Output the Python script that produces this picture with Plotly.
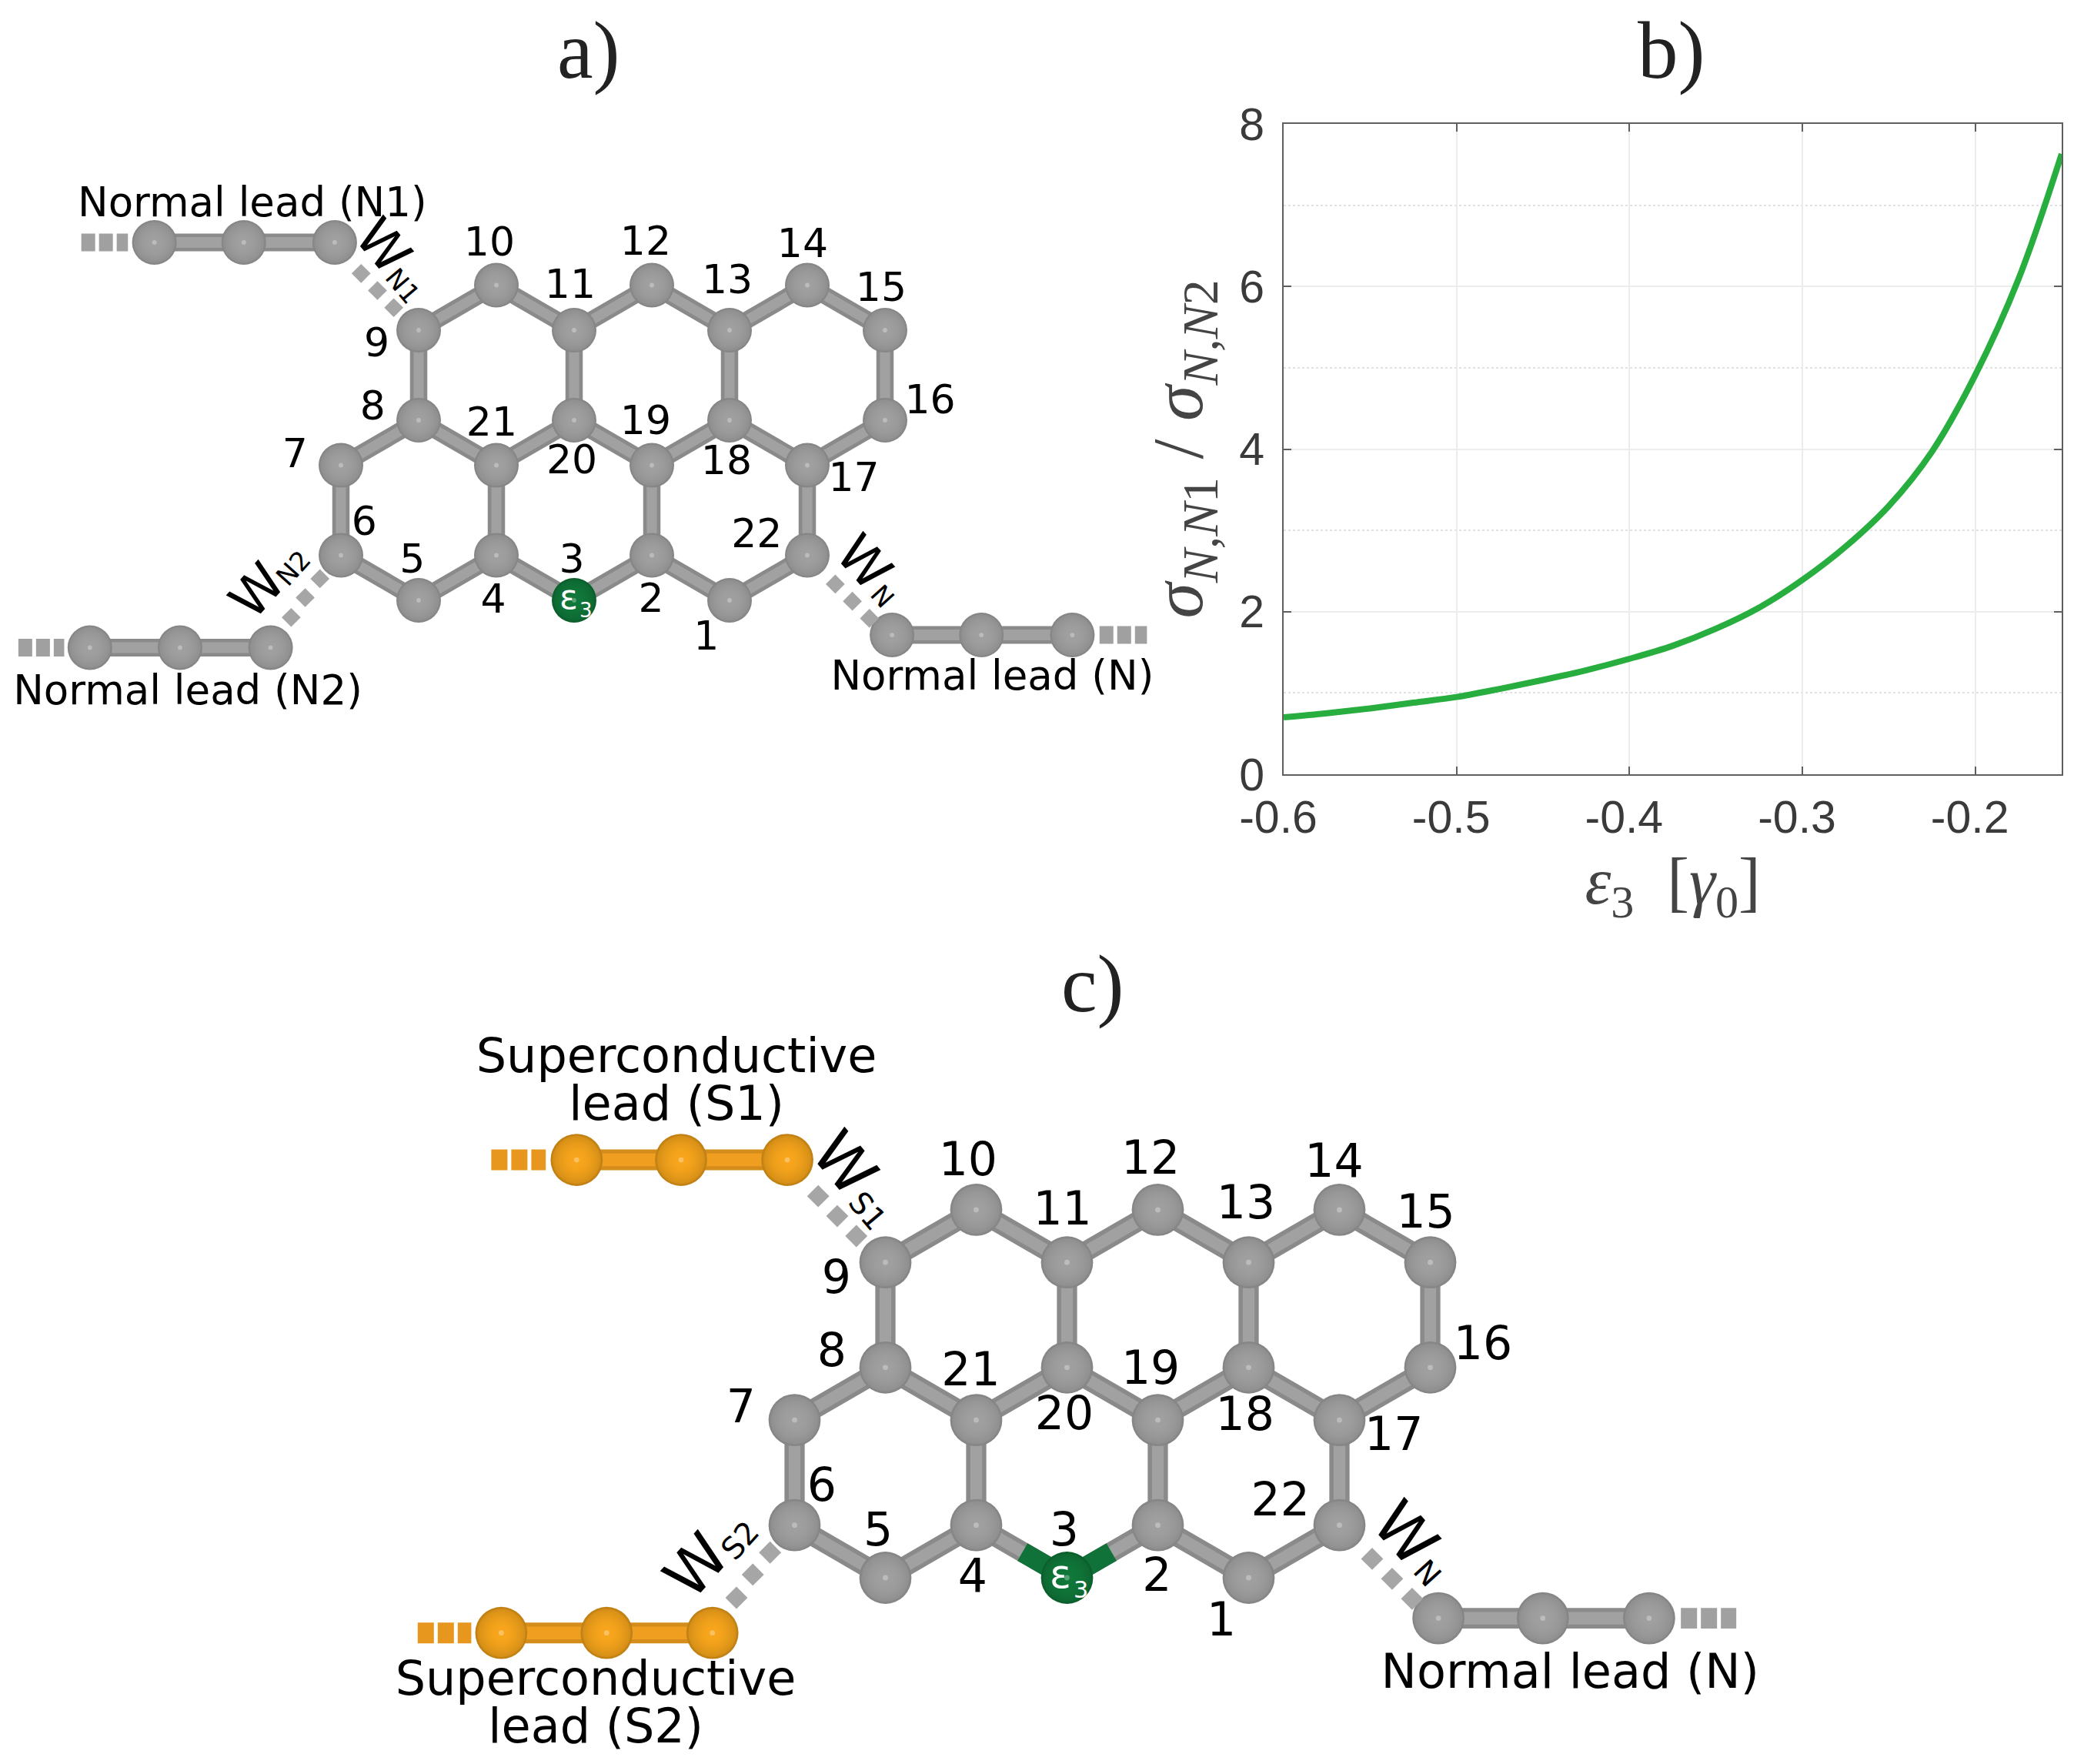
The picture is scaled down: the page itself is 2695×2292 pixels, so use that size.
import plotly.graph_objects as go

# ---------- panel b data ----------
EPS3 = [-0.6, -0.575, -0.55, -0.525, -0.5, -0.475, -0.45, -0.425, -0.4, -0.375, -0.35, -0.325, -0.3, -0.275, -0.25,
        -0.225, -0.2, -0.175, -0.15]
RATIO = [0.70, 0.75, 0.81, 0.88, 0.95, 1.05, 1.16, 1.28, 1.42, 1.58, 1.79, 2.05, 2.39, 2.80, 3.30,
         3.97, 4.91, 6.09, 7.63]
X_TICKS = [-0.6, -0.5, -0.4, -0.3, -0.2]
X_TICK_TEXT = ["-0.6", "-0.5", "-0.4", "-0.3", "-0.2"]
Y_TICKS = [0, 2, 4, 6, 8]
Y_MINOR = [1, 3, 5, 7]

# ---------- molecule, lattice units (shared by panels a and c) ----------
ATOM_ID = list(range(1, 23))
ATOM_I = [5, 4, 3, 2, 1, 0, 0, 1, 1, 2, 3, 4, 5, 6, 7, 7, 6, 5, 4, 3, 2, 6]
ATOM_J = [0, 1, 0, 1, 0, 1, 3, 4, 6, 7, 6, 7, 6, 7, 6, 4, 3, 4, 3, 4, 3, 1]
BONDS = [(1, 2), (2, 3), (3, 4), (4, 5), (5, 6), (6, 7), (7, 8), (8, 9), (9, 10), (10, 11), (11, 12),
         (12, 13), (13, 14), (14, 15), (15, 16), (16, 17), (17, 22), (22, 1), (17, 18), (18, 19),
         (19, 20), (20, 21), (21, 8), (21, 4), (19, 2), (20, 11), (18, 13)]
LABEL_I = [4.70, 3.99, 2.97, 1.96, 0.92, 0.30, -0.59, 0.41, 0.46, 1.91, 2.95, 3.92, 4.97, 5.94, 6.95, 7.58, 6.60, 4.96, 3.92, 2.97, 1.94, 5.35]
LABEL_J = [-0.88, -0.03, 0.83, -0.05, 0.83, 1.68, 3.18, 4.24, 5.64, 7.88, 6.94, 7.90, 7.05, 7.85, 6.88, 4.38, 2.65, 3.03, 3.91, 3.05, 3.88, 1.41]

LEAD_TL_I = [-2.40, -1.25, -0.08]; LEAD_TL_J = [7.95, 7.95, 7.95]
LEAD_BL_I = [-3.23, -2.07, -0.905]; LEAD_BL_J = [-1.05, -1.05, -1.05]
LEAD_R_I = [7.09, 8.24, 9.41]; LEAD_R_J = [-0.77, -0.77, -0.77]
DASH_TL_I = [-3.34, -2.74]
DASH_BL_I = [-4.15, -3.56]
DASH_R_I = [9.76, 10.37]
COUP_TL_I = [0.26, 0.47, 0.68]; COUP_TL_J = [7.26, 6.88, 6.50]
COUP_BL_I = [-0.64, -0.46, -0.27]; COUP_BL_J = [-0.38, 0.06, 0.48]
COUP_R_I = [6.36, 6.58, 6.80]; COUP_R_J = [0.36, -0.02, -0.40]
GREEN_BOND_I = [2.51, 3.0, 3.49]; GREEN_BOND_J = [0.49, 0.0, 0.49]

W_POS = [(0.55, 7.88, 50), (-1.08, 0.22, -48), (6.73, 0.84, 48)]
SUB_POS = [(0.80, 6.98, 50), (-0.61, 0.71, -48), (6.97, 0.09, 48)]
SUB_A = ["N1", "N2", "N"]
SUB_C = ["S1", "S2", "N"]
TITLE_A = [("Normal lead (N1)", -1.14, 8.76), ("Normal lead (N2)", -1.97, -2.08), ("Normal lead (N)", 8.38, -1.76)]
TITLE_C = [("Superconductive", -1.30, 9.85), ("lead (S1)", -1.30, 8.94), ("Superconductive", -2.19, -2.00),
           ("lead (S2)", -2.19, -2.91), ("Normal lead (N)", 8.54, -1.86)]

W, H = 2695, 2292
GRAY_SET = dict(edge="#858585", body="rgba(160,160,160,1)", fade="rgba(160,160,160,0.3)", base="#8a8a8a", stripe="#a1a1a1")
ORANGE_SET = dict(edge="#c08014", body="rgba(248,166,28,1)", fade="rgba(248,166,28,0.3)", base="#d48d1a", stripe="#f09e20")
GREEN_SET = dict(edge="#0b5e2c", body="rgba(16,120,58,1)", fade="rgba(16,120,58,0.3)", base="#107238", stripe="#107238")
DOT = "#a6a6a6"
SERIF = "Liberation Serif"
SANS = "DejaVu Sans"

fig = go.Figure()


def seg_xy(pairs):
    xs, ys = [], []
    for a, b in pairs:
        xs += [ATOM_I[a - 1], ATOM_I[b - 1], None]
        ys += [ATOM_J[a - 1], ATOM_J[b - 1], None]
    return xs, ys


def line(xs, ys, color, width, xa, ya, dash=None):
    fig.add_trace(go.Scatter(x=xs, y=ys, mode="lines", xaxis=xa, yaxis=ya, hoverinfo="skip", showlegend=False,
                             line=dict(color=color, width=width, dash=dash)))


def balls(xs, ys, size, st, xa, ya):
    common = dict(mode="markers", xaxis=xa, yaxis=ya, hoverinfo="skip", showlegend=False)
    fig.add_trace(go.Scatter(x=xs, y=ys, marker=dict(size=size, color=st["edge"], line=dict(width=0),
                                                     gradient=dict(type="radial", color=st["body"])), **common))
    fig.add_trace(go.Scatter(x=xs, y=ys, marker=dict(size=size * 0.92, color=st["fade"], line=dict(width=0),
                                                     gradient=dict(type="radial", color=st["body"])), **common))
    fig.add_trace(go.Scatter(x=xs, y=ys, marker=dict(size=size * 0.1, color="rgba(255,255,255,0.3)", line=dict(width=0)), **common))


def panel(xa, ya, k, lead_set, dash_color, num_size, subs, titles, title_size, green_bonds):
    bond_w = 22.5 * k
    for dash_i, j, c in ((DASH_TL_I, LEAD_TL_J[0], dash_color), (DASH_BL_I, LEAD_BL_J[0], dash_color),
                         (DASH_R_I, LEAD_R_J[0], "#a0a0a0")):
        line(dash_i, [j, j], c, 23 * k, xa, ya, dash="%dpx,%dpx" % (18 * k, 5 * k))
    for li, lj, st in ((LEAD_TL_I, LEAD_TL_J, lead_set), (LEAD_BL_I, LEAD_BL_J, lead_set), (LEAD_R_I, LEAD_R_J, GRAY_SET)):
        line(li, lj, st["base"], 23 * k, xa, ya)
        line(li, lj, st["stripe"], 14 * k, xa, ya)
        balls(li, lj, 58 * k, st, xa, ya)
    fig.add_trace(go.Scatter(x=COUP_TL_I + COUP_BL_I + COUP_R_I, y=COUP_TL_J + COUP_BL_J + COUP_R_J, mode="markers",
                             xaxis=xa, yaxis=ya, hoverinfo="skip", showlegend=False,
                             marker=dict(symbol="diamond", size=19 * k, color=DOT, line=dict(width=0))))
    xs, ys = seg_xy(BONDS)
    line(xs, ys, GRAY_SET["base"], bond_w, xa, ya)
    line(xs, ys, GRAY_SET["stripe"], 13 * k, xa, ya)
    if green_bonds:
        line(GREEN_BOND_I, GREEN_BOND_J, GREEN_SET["base"], bond_w, xa, ya)
    gi = [a for a, idn in zip(ATOM_I, ATOM_ID) if idn != 3]
    gj = [a for a, idn in zip(ATOM_J, ATOM_ID) if idn != 3]
    balls(gi, gj, 58 * k, GRAY_SET, xa, ya)
    balls([ATOM_I[2]], [ATOM_J[2]], 58 * k, GREEN_SET, xa, ya)
    fig.add_trace(go.Scatter(x=LABEL_I, y=LABEL_J, mode="text", text=[str(a) for a in ATOM_ID], xaxis=xa, yaxis=ya,
                             hoverinfo="skip", showlegend=False, cliponaxis=False,
                             textfont=dict(family=SANS, size=num_size, color="black")))
    fig.add_trace(go.Scatter(x=[t[1] for t in titles], y=[t[2] for t in titles], mode="text", text=[t[0] for t in titles],
                             xaxis=xa, yaxis=ya, hoverinfo="skip", showlegend=False, cliponaxis=False,
                             textfont=dict(family=SANS, size=title_size, color="black")))
    for (x, y, ang), (sx, sy, _), s in zip(W_POS, SUB_POS, subs):
        fig.add_annotation(x=x, y=y, xref=xa, yref=ya, text="W", textangle=ang, showarrow=False,
                           font=dict(family=SANS, size=68 * k, color="black"))
        fig.add_annotation(x=sx, y=sy, xref=xa, yref=ya, text=s, textangle=ang, showarrow=False,
                           font=dict(family=SANS, size=34 * k, color="black"))
    fig.add_annotation(x=ATOM_I[2] - 0.07, y=ATOM_J[2] + 0.07, xref=xa, yref=ya, text="ε", showarrow=False,
                       font=dict(family=SANS, size=44 * k, color="white"))
    fig.add_annotation(x=ATOM_I[2] + 0.15, y=ATOM_J[2] - 0.22, xref=xa, yref=ya, text="3", showarrow=False,
                       font=dict(family=SANS, size=26 * k, color="white"))


panel("x2", "y2", 1.0, GRAY_SET, "#a0a0a0", 52, SUB_A, TITLE_A, 53, False)
panel("x3", "y3", 118 / 101, ORANGE_SET, "#e8971e", 60, SUB_C, TITLE_C, 62, True)

fig.add_trace(go.Scatter(x=EPS3, y=RATIO, mode="lines", xaxis="x", yaxis="y", showlegend=False,
                         line=dict(color="#27ae3f", width=8, shape="spline", smoothing=1.0)))


def box(px0, px1, py_top, py_bot, c0, dx, j0py, dj):
    return (dict(domain=[px0 / W, px1 / W], range=[(px0 - c0) / dx, (px1 - c0) / dx], visible=False, fixedrange=True),
            dict(domain=[1 - py_bot / H, 1 - py_top / H], range=[(j0py - py_bot) / dj, (j0py - py_top) / dj],
                 visible=False, fixedrange=True))


xa2, ya2 = box(0, 1560, 200, 960, 443, 101, 780, 58.5)
xa3, ya3 = box(500, 2340, 1330, 2292, 1032.5, 118, 2050, 68.3)
xa2["anchor"] = "y2"; ya2["anchor"] = "x2"; xa3["anchor"] = "y3"; ya3["anchor"] = "x3"

TICK = dict(family="Liberation Sans", size=59, color="#3a3a3a")
AX = "#5f5f5f"
fig.update_layout(
    width=W, height=H, autosize=False, margin=dict(l=0, r=0, t=0, b=0, autoexpand=False),
    paper_bgcolor="white", plot_bgcolor="white", showlegend=False,
    xaxis=dict(domain=[1668 / W, 2679 / W], range=[-0.6, -0.15], tickvals=X_TICKS, ticktext=X_TICK_TEXT,
               anchor="y", tickfont=TICK, ticks="inside", ticklen=10, tickcolor=AX, tickwidth=2,
               showline=True, linecolor=AX, linewidth=2, mirror="ticks", gridcolor="#ececec", gridwidth=2,
               zeroline=False, ticklabelstandoff=3, ticklabelshift=-7,
               title=dict(text="<i>ε</i><sub>3</sub>  [<i>γ</i><sub>0</sub>]", standoff=20,
                          font=dict(family=SERIF, size=86, color="#444444"))),
    yaxis=dict(domain=[1 - 1006 / H, 1 - 161 / H], range=[0, 8], tickvals=Y_TICKS, anchor="x",
               tickfont=TICK, ticks="inside", ticklen=10, tickcolor=AX, tickwidth=2,
               showline=True, linecolor=AX, linewidth=2, mirror="ticks", gridcolor="#ececec", gridwidth=2,
               zeroline=False, ticklabelstandoff=11,
               minor=dict(tickvals=Y_MINOR, showgrid=True, griddash="dot", gridcolor="#e2e2e2", gridwidth=2),
               title=dict(text="<i>σ</i><sub><i>N,N</i>1</sub> / <i>σ</i><sub><i>N,N</i>2</sub>", standoff=16,
                          font=dict(family=SERIF, size=94, color="#444444"))),
    xaxis2=xa2, yaxis2=ya2, xaxis3=xa3, yaxis3=ya3,
)

for txt, px, py in (("a)", 765, 65), ("b)", 2171, 65), ("c)", 1420, 1279)):
    fig.add_annotation(xref="paper", yref="paper", x=px / W, y=1 - py / H, text=txt, showarrow=False,
                       xanchor="center", yanchor="middle",
                       font=dict(family=SERIF, size=105, color="#222222"))

fig.write_html("out.html", post_script="document.body.style.margin='0';document.documentElement.style.overflow='hidden';",
               config=dict(displayModeBar=False))
